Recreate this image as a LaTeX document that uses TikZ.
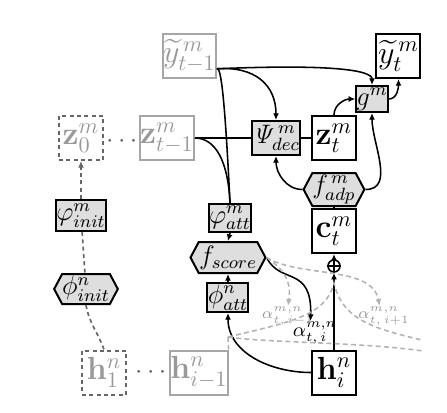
\documentclass[tikz,border=0pt]{standalone}
\usepackage{amsmath}
\usetikzlibrary{arrows.meta,shapes.symbols}

\tikzset{
  blockbox/.style={draw, line width=0.9pt, minimum width=19.8pt, minimum height=19.8pt, inner sep=0pt, font=\Large},
  fadedbox/.style={blockbox, draw=black!35, text=black!40},
  ghostbox/.style={blockbox, draw=black!60, dash pattern=on 1.8pt off 1.5pt, text=black!40},
  funcbox/.style={draw, line width=0.9pt, fill=black!13, inner sep=0pt},
  funchex/.style={funcbox, signal, signal to=west and east, signal pointer angle=124},
  weightlabel/.style={inner sep=0pt, text=black!40, font=\scriptsize},
  link/.style={line width=0.7pt},
  arrow/.style={link, -{Latex[length=3pt,width=2.7pt]}},
  ghostlink/.style={line width=0.75pt, black!60, dash pattern=on 1.8pt off 1.5pt},
  attnlink/.style={line width=0.7pt, black!30, dash pattern=on 2.2pt off 1.5pt},
}

\begin{document}
\begin{tikzpicture}[x=0.45pt, y=-0.45pt, font=\large]
\useasboundingbox (0,0) rectangle (447,412);

% decoder side
\node[fadedbox] (YPrev) at (189.5,56) {$\widetilde{y}^{\,m}_{t-1}$};
\node[ghostbox] (ZZero) at (81,138) {$\mathbf{z}^m_0$};
\node[text=black!60] (DotsZ) at (124,142) {$\cdots$};
\node[fadedbox] (ZPrev) at (167,138) {$\mathbf{z}^m_{t-1}$};
\node[blockbox] (YOut) at (398.5,56) {$\widetilde{y}^{\,m}_t$};
\node[funcbox, minimum width=12.6pt, minimum height=11.7pt] (G) at (372,99) {$g^m$};
\node[funcbox, minimum width=18pt, minimum height=15.3pt] (PsiDec) at (276,138) {$\mathit{\Psi}^{\,m}_{dec}$};
\node[blockbox] (ZCur) at (334,138) {$\mathbf{z}^m_t$};
\node[funchex, minimum width=20.7pt, minimum height=14.85pt] (FAdp) at (334,189.5) {$f^{\,m}_{adp}$};
\node[blockbox] (CCur) at (334,231) {$\mathbf{c}^m_t$};
\node[draw, circle, line width=0.7pt, minimum size=5.4pt, inner sep=0pt] (Plus) at (334,266) {};
\draw[line width=0.6pt] (Plus.north) -- (Plus.south) (Plus.west) -- (Plus.east);

% attention
\node[funcbox, minimum width=16.65pt, minimum height=12.6pt] (PhiAttM) at (230,218) {$\varphi^m_{att}$};
\node[funchex, minimum width=33.75pt, minimum height=13.95pt] (FScore) at (228,257.5) {$f_{score}$};
\node[funcbox, minimum width=18.45pt, minimum height=13.05pt] (PhiAttN) at (228,297.5) {$\phi^n_{att}$};
\node[inner sep=0pt, font=\small] (AlphaI) at (315,333) {$\alpha^{m,n}_{t,\,i}$};
\node[weightlabel] (AlphaPrev) at (288,316) {$\alpha^{m,n}_{t,\,i-1}$};
\node[weightlabel] (AlphaNext) at (384,316) {$\alpha^{m,n}_{t,\,i+1}$};

% encoder side
\node[blockbox] (HCur) at (334,372.5) {$\mathbf{h}^n_i$};
\node[fadedbox] (HPrev) at (199,372.5) {$\mathbf{h}^n_{i-1}$};
\node[text=black!60] (DotsH) at (153,373) {$\cdots$};
\node[ghostbox] (HOne) at (104,372.5) {$\mathbf{h}^n_1$};
\node[funcbox, minimum width=18.9pt, minimum height=13.95pt] (PhiInitM) at (81,215.5) {$\varphi^m_{init}$};
\node[funchex, minimum width=21.15pt, minimum height=13.5pt] (PhiInitN) at (86,289) {$\phi^n_{init}$};

% initialisation path
\draw[ghostlink, -{Latex[length=3pt,width=2.7pt]}] (PhiInitM) -- (ZZero);
\draw[ghostlink] (PhiInitM) -- (PhiInitN);
\draw[ghostlink] (PhiInitN.south) to[out=-80, in=110] (HOne.north);

% previous output and state
\draw[arrow] (YPrev.-25) .. controls (330,64) and (372,70) .. (G.north);
\draw[arrow] (YPrev.-25) .. controls (255,66) and (276,85) .. (PsiDec.north);
\draw[link] (YPrev.-25) .. controls (221,66) and (225,100) .. (PhiAttM.north);
\draw[link] (ZPrev.east) .. controls (215,138) and (228,160) .. (PhiAttM.north);
\draw[link] (ZPrev.east) -- (PsiDec.west);
\draw[link] (PsiDec.east) -- (ZCur.west);
\draw[arrow] (ZCur.north) to[out=90, in=180] (G.west);
\draw[arrow] (G.east) to[out=0, in=-90] (YOut.south);
\draw[arrow] (FAdp.west) to[out=180, in=-90] (PsiDec.south);
\draw[arrow] (FAdp.east) to[out=0, in=-90] (G.south);
\draw[link] (CCur.north) -- (FAdp.south);
\draw[arrow] (Plus.north) -- (CCur.south);
\draw[arrow] (HCur.north) -- (Plus.south);

% scoring
\draw[arrow] (PhiAttM.south) -- (FScore.north);
\draw[arrow] (PhiAttN.north) -- (FScore.south);
\draw[arrow] (HCur.west) to[out=180, in=-90] (PhiAttN.south);
\draw[arrow] (FScore.east) .. controls (280,285) and (312,265) .. ([xshift=-2pt]AlphaI.north);

% attention window
\draw[attnlink, -{Latex[length=3pt,width=2.7pt]}] (FScore.east) .. controls (282,268) and (292,280) .. (AlphaPrev.north);
\draw[attnlink, -{Latex[length=3pt,width=2.7pt]}] (FScore.east) .. controls (300,278) and (372,265) .. ([xshift=-2pt]AlphaNext.north);
\coordinate (WinLeft) at (228,337);
\coordinate (WinPeak) at (334,283);
\coordinate (WinRight) at (422,340);
\coordinate (WinBase) at (423,351);
\draw[attnlink] (WinLeft) .. controls (290,322) and (326,316) .. (WinPeak)
  .. controls (342,318) and (370,328) .. (WinRight);
\draw[attnlink] (WinLeft) .. controls (270,343) and (360,342) .. (WinBase);
\draw[attnlink] (WinLeft) -- (HPrev.north east);
\end{tikzpicture}
\end{document}
